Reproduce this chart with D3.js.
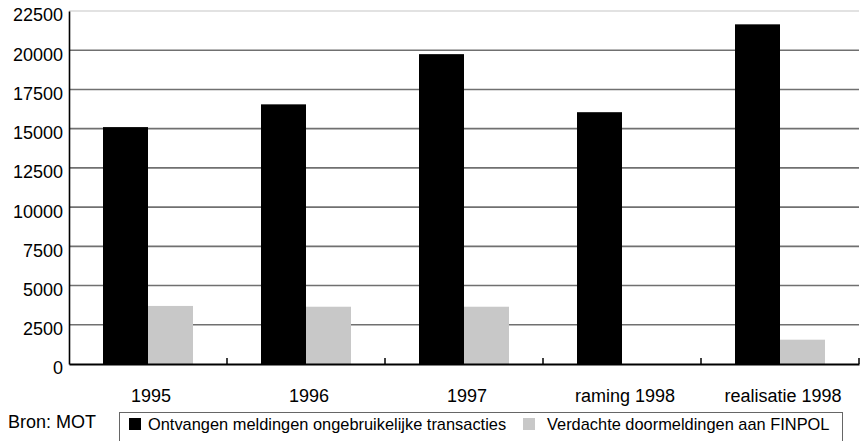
<!DOCTYPE html>
<html><head><meta charset="utf-8">
<script src="https://cdn.jsdelivr.net/npm/d3@7"></script>
<style>body{margin:0;background:#fff}svg{display:block;font-family:"Liberation Sans",Arial,sans-serif}</style>
</head><body><svg id="c" width="866" height="441"></svg>
<script>
const categories = ["1995","1996","1997","raming 1998","realisatie 1998"];
const seriesNames = ["Ontvangen meldingen ongebruikelijke transacties","Verdachte doormeldingen aan FINPOL"];
const meldingen = [15100, 16550, 19750, 16050, 21650];
const verdacht = [3700, 3650, 3650, null, 1550];
const yTicks = [0,2500,5000,7500,10000,12500,15000,17500,20000,22500];
const colors = ["#000000","#c8c8c8"];
const source = "Bron: MOT";

const svg = d3.select("#c");
const x0 = d3.scaleBand().domain(categories).range([69, 859]).paddingInner(0).paddingOuter(0);
const x1 = d3.scaleBand().domain([0,1]).range([34, 124]).padding(0);
const y = d3.scaleLinear().domain([0, 22500]).range([364, 11]);

// gridlines
svg.append("g").selectAll("line").data(yTicks.filter(d=>d>0)).join("line")
  .attr("x1", 69).attr("x2", 859).attr("y1", d=>y(d)).attr("y2", d=>y(d))
  .attr("stroke", d=> d===22500 ? "#d9d9d9" : "#707070").attr("stroke-width", 1.6);

// bars
const data = categories.map((c,i)=>({c, vals:[meldingen[i], verdacht[i]]}));
const g = svg.append("g").selectAll("g").data(data).join("g")
  .attr("transform", d=>`translate(${x0(d.c)},0)`);
g.selectAll("rect").data(d=>d.vals.map((v,k)=>({v,k})).filter(e=>e.v!=null)).join("rect")
  .attr("x", e=>x1(e.k)).attr("width", x1.bandwidth())
  .attr("y", e=>y(e.v)).attr("height", e=>y(0)-y(e.v))
  .attr("fill", e=>colors[e.k]);

// y axis
const yAxis = d3.axisLeft(y).tickValues(yTicks).tickFormat(d3.format("d")).tickSize(0).tickPadding(6);
const ya = svg.append("g").attr("transform","translate(69,0)").call(yAxis);
ya.select(".domain").attr("stroke","#000").attr("stroke-width",1.6);
ya.selectAll("text").attr("font-size",18).attr("fill","#000").attr("font-family","Liberation Sans, Arial, sans-serif").attr("dy","0.55em");

// x axis
const xAxis = d3.axisBottom(x0).tickSize(0).tickPadding(0);
const xa = svg.append("g").attr("transform","translate(0,364)").call(xAxis);
xa.select(".domain").attr("stroke","#000").attr("stroke-width",1.8);
xa.selectAll("text").attr("font-size",18).attr("fill","#000").attr("font-family","Liberation Sans, Arial, sans-serif").attr("y",38).attr("dy",0).attr("dx",3);
// boundary ticks
const bounds = categories.map(c=>x0(c)+x0.bandwidth());
svg.append("g").selectAll("line").data(bounds).join("line")
  .attr("x1", d=>d).attr("x2", d=>d).attr("y1", 364).attr("y2", 358)
  .attr("stroke","#000").attr("stroke-width",1.5);

// source
svg.append("text").attr("x",8).attr("y",428).attr("font-size",18).text(source);

// legend
svg.append("rect").attr("x",119.5).attr("y",412.5).attr("width",723).attr("height",40)
  .attr("fill","none").attr("stroke","#666").attr("stroke-width",1);
const legX = [129, 523];
const legTextX = [148, 547];
seriesNames.forEach((s,i)=>{
  svg.append("rect").attr("x",legX[i]).attr("y",418).attr("width",12).attr("height",12).attr("fill",colors[i]);
  svg.append("text").attr("x",legTextX[i]).attr("y",430).attr("font-size",16.4).text(s);
});
</script></body></html>
